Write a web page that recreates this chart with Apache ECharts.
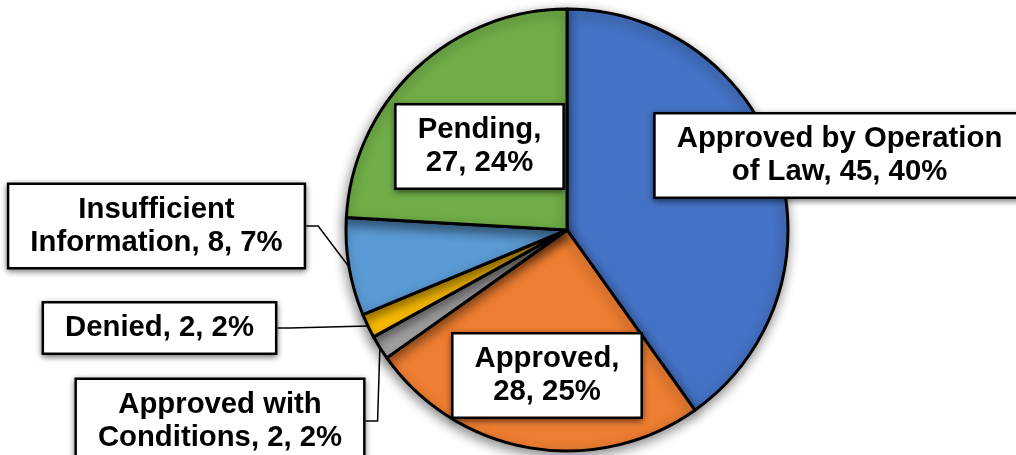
<!DOCTYPE html>
<html><head><meta charset="utf-8">
<script src="https://cdn.jsdelivr.net/npm/echarts@6/dist/echarts.min.js"></script>
<style>html,body{margin:0;padding:0;background:#fff}#c{width:1016px;height:455px}</style>
</head><body><div id="c"></div>
<script>
// ---- data ----
const categories = ['Approved by Operation of Law', 'Approved', 'Approved with Conditions', 'Denied', 'Insufficient Information', 'Pending'];
const values = [45, 28, 2, 2, 8, 27];
const firstLines = ['Approved by Operation', 'Approved,', 'Approved with', '', 'Insufficient', 'Pending,'];

// ---- styling / layout ----
const colors = ['#4472C4', '#ED7D31', '#A5A5A5', '#FFC000', '#5B9BD5', '#70AD47'];
const labelAnchors = [[839.5, 155.5], [547, 375.5], [220, 421], [159.5, 328], [156.5, 226], [479.5, 146.5]];
const hasLeader = [false, false, true, true, true, false];

const chart = echarts.init(document.getElementById('c'), null, {renderer: 'canvas'});
const data = categories.map((name, i) => ({
  name: name,
  value: values[i],
  itemStyle: {color: colors[i]},
  labelLine: {show: hasLeader[i]}
}));

chart.setOption({
  animation: false,
  backgroundColor: '#fff',
  series: [{
    type: 'pie',
    center: [567, 230],
    radius: 221,
    startAngle: 90,
    clockwise: true,
    avoidLabelOverlap: false,
    data: data,
    itemStyle: {
      borderColor: '#000',
      borderWidth: 3,
      shadowBlur: 12,
      shadowOffsetX: -1,
      shadowOffsetY: 4,
      shadowColor: 'rgba(0,0,0,0.45)'
    },
    label: {
      show: true,
      position: 'outside',
      formatter: function (p) {
        const full = p.name + ', ' + p.value + ', ' + Math.round(p.percent) + '%';
        const fl = firstLines[p.dataIndex];
        if (!fl) return full;
        return fl + '\n' + full.slice(fl.length).trim();
      },
      fontFamily: 'Liberation Sans, Arial, sans-serif',
      fontWeight: 'bold',
      fontSize: 29.3,
      lineHeight: 33,
      color: '#000',
      align: 'center',
      backgroundColor: '#fff',
      borderColor: '#000',
      borderWidth: 2.5,
      padding: [8, 21],
      shadowBlur: 6,
      shadowOffsetX: 0,
      shadowOffsetY: 2,
      shadowColor: 'rgba(0,0,0,0.45)'
    },
    labelLine: {
      show: true,
      length: 12,
      length2: 12,
      smooth: false,
      lineStyle: {color: '#000', width: 1.5}
    },
    labelLayout: function (p) {
      const a = labelAnchors[p.dataIndex];
      return {x: a[0], y: a[1], align: 'center', verticalAlign: 'middle'};
    },
    emphasis: {disabled: true}
  }]
});
</script>
</body></html>
